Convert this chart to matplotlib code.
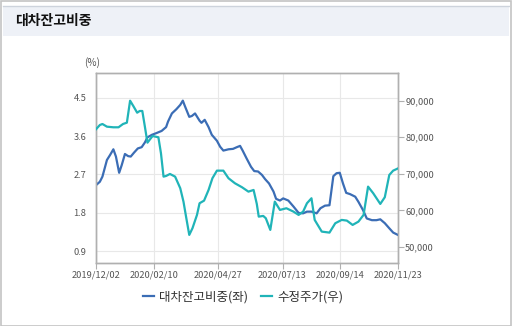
import matplotlib
matplotlib.use("Agg")
import matplotlib.pyplot as plt
from matplotlib.patches import Rectangle
from matplotlib.ticker import FuncFormatter

plt.rcParams['font.family'] = ['Noto Sans CJK KR', 'DejaVu Sans']

title = "대차잔고비중"
series_names = ["대차잔고비중(좌)", "수정주가(우)"]
tick_pos = [0, 9, 19, 29, 38, 47]
tick_labels = ["2019/12/02", "2020/02/10", "2020/04/27", "2020/07/13", "2020/09/14", "2020/11/23"]

# period index (weeks) and lending-balance ratio (%)
x_ratio = [0, 0.6, 1.0, 1.7, 2.2, 2.7, 3.1, 3.6, 4.0, 4.5, 5.0, 5.4, 5.9, 6.5, 7.1, 7.6, 8.0, 8.7,
           9.4, 10.2, 10.9, 11.2, 11.8, 12.5, 13.1, 13.5, 13.8, 14.5, 14.9, 15.4, 16.1, 16.4, 16.9,
           17.5, 18.0, 18.8, 19.3, 19.8, 20.6, 21.3, 21.9, 22.4, 22.8, 23.4, 24.1, 24.6, 25.2, 25.8,
           26.3, 26.9, 27.6, 28.0, 28.6, 29.1, 29.9, 30.7, 31.5, 32.2, 32.8, 33.5, 34.3, 34.9, 35.6,
           36.3, 36.9, 37.4, 37.9, 38.4, 38.9, 39.5, 40.3, 40.8, 41.5, 42.1, 42.9, 43.6, 44.2, 44.9,
           45.6, 46.2, 47.0]
ratio = [2.45, 2.53, 2.65, 3.04, 3.16, 3.29, 3.12, 2.74, 2.92, 3.18, 3.13, 3.12, 3.21, 3.31, 3.34,
         3.45, 3.57, 3.63, 3.67, 3.72, 3.81, 3.94, 4.13, 4.23, 4.33, 4.43, 4.31, 4.05, 4.07, 4.13,
         3.96, 3.91, 3.98, 3.81, 3.63, 3.49, 3.35, 3.26, 3.29, 3.30, 3.34, 3.37, 3.26, 3.08, 2.88,
         2.78, 2.77, 2.69, 2.59, 2.49, 2.30, 2.13, 2.09, 2.14, 2.09, 1.95, 1.80, 1.79, 1.83, 1.83,
         1.79, 1.91, 1.97, 1.98, 2.66, 2.73, 2.74, 2.49, 2.27, 2.24, 2.18, 2.06, 1.87, 1.67, 1.63,
         1.63, 1.65, 1.56, 1.44, 1.34, 1.28]

# period index (weeks) and adjusted price (KRW)
x_price = [0, 0.6, 1.0, 1.7, 2.7, 3.5, 4.2, 4.8, 5.3, 5.8, 6.4, 6.8, 7.2, 7.6, 8.0, 8.4, 8.8, 9.7,
           10.1, 10.5, 10.9, 11.5, 12.3, 13.1, 13.6, 14.0, 14.5, 15.0, 15.7, 16.1, 16.8, 17.5, 18.1,
           18.8, 19.8, 20.6, 21.6, 22.7, 23.7, 24.5, 25.0, 25.3, 26.0, 26.4, 27.1, 27.8, 28.6, 29.6,
           30.7, 31.5, 32.2, 32.8, 33.5, 34.0, 35.1, 36.3, 37.2, 38.2, 39.0, 39.9, 40.8, 41.6, 42.3,
           43.1, 44.2, 44.9, 45.6, 46.2, 47.0]
price = [82190, 83360, 83630, 82900, 82730, 82730, 83630, 84000, 90000, 88550, 86720, 87190, 87190,
         82900, 78530, 79450, 80350, 80000, 75630, 69240, 69430, 69970, 69240, 66070, 62410, 58310,
         53310, 55140, 58780, 61970, 62680, 65600, 68800, 70880, 70880, 68800, 67430, 66340, 65140,
         65600, 61780, 58310, 58500, 57870, 54680, 62410, 60140, 60600, 59680, 58780, 59680, 61970,
         63330, 57410, 54210, 53940, 56500, 57410, 57220, 56040, 56940, 58780, 66510, 64700, 61780,
         63610, 69700, 70880, 71530]

left_ticks = [0.9, 1.8, 2.7, 3.6, 4.5]
right_ticks = [50000, 60000, 70000, 80000, 90000]

W, H = 512, 326
fig = plt.figure(figsize=(W / 100, H / 100), dpi=100)
fig.patch.set_facecolor("white")

# outer border and title bar
fig.patches.append(Rectangle((0.5 / W, 0.5 / H), (W - 1.5) / W, (H - 1.5) / H,
                             transform=fig.transFigure, fill=False, edgecolor="#c4c4c4", lw=1.2))
fig.patches.append(Rectangle((3 / W, (H - 36) / H), (W - 6) / W, 30 / H,
                             transform=fig.transFigure, facecolor="#eef1f7", edgecolor="none"))
fig.add_artist(plt.Line2D([3 / W, (W - 3) / W], [(H - 6) / H, (H - 6) / H],
                          transform=fig.transFigure, color="#cdd3dc", lw=1))
fig.text(15 / W, (H - 21) / H, title, fontsize=10, fontweight="bold", color="#111111",
         va="center", ha="left")

ax = fig.add_axes([96 / W, (H - 263.3) / H, 302.3 / W, 190 / H])
ax2 = ax.twinx()

blue = "#3b6db5"
teal = "#20b4b8"

ax.plot(x_ratio, ratio, color=blue, lw=1.6, label=series_names[0], zorder=3)
ax2.plot(x_price, price, color=teal, lw=1.6, label=series_names[1], zorder=3)

ax.set_xlim(0, 47)
ax.set_ylim(0.62, 5.07)
ax2.set_ylim(45550, 97490)

ax.set_xticks(tick_pos)
ax.set_xticklabels(tick_labels)
ax.set_yticks(left_ticks)
ax.set_yticklabels([f"{v:.1f}" for v in left_ticks])
ax2.set_yticks(right_ticks)
ax2.yaxis.set_major_formatter(FuncFormatter(lambda v, p: f"{int(v):,}"))

ax.grid(True, color="#e8e8e8", lw=0.8)
ax.set_axisbelow(True)

for a in (ax, ax2):
    for s in a.spines.values():
        s.set_color("#b0b0b0")
        s.set_linewidth(1.0)

ax.tick_params(axis="x", length=4, width=0.8, color="#b0b0b0", labelsize=6.7,
               labelcolor="#555555", pad=1.5)
ax.tick_params(axis="y", length=0, labelsize=6.7, labelcolor="#555555", pad=7)
ax2.tick_params(axis="y", length=4, width=0.8, color="#b0b0b0", labelsize=6.7,
                labelcolor="#555555", pad=1)

fig.text(92 / W, (H - 63) / H, "(%)", fontsize=7.2, color="#555555", ha="center", va="center")

h1, l1 = ax.get_legend_handles_labels()
h2, l2 = ax2.get_legend_handles_labels()
fig.legend(h1 + h2, l1 + l2, loc="center", bbox_to_anchor=(243 / W, (H - 297) / H),
           ncol=2, frameon=False, fontsize=9, handlelength=0.9, handletextpad=0.4,
           columnspacing=1.0, labelcolor="#333333")

fig.savefig("out.png", dpi=100)
